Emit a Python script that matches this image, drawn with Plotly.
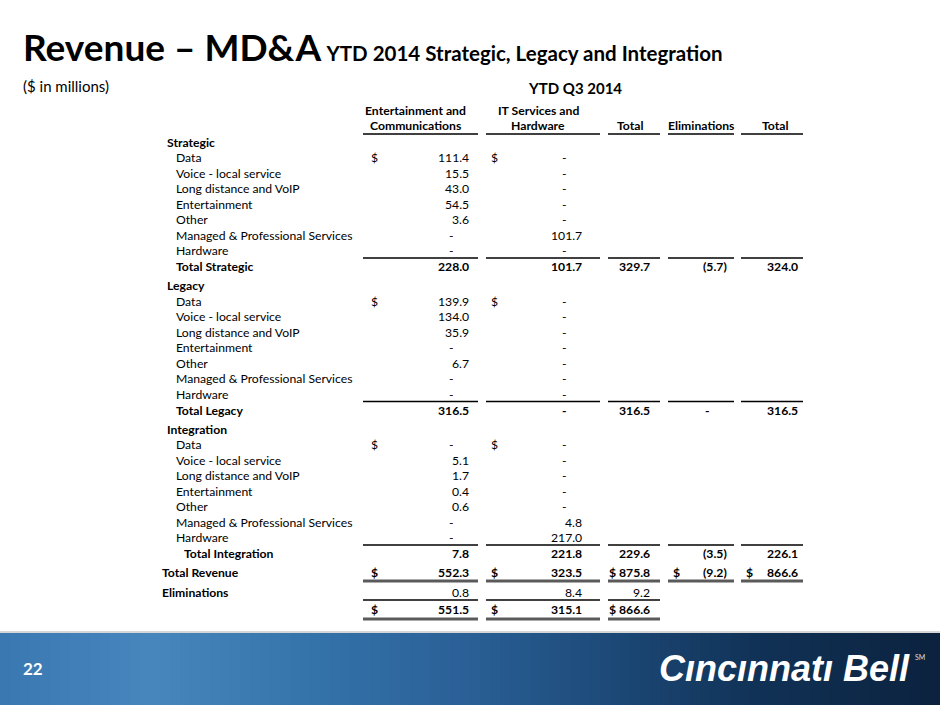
import plotly.graph_objects as go

# 数据
items = ["Data", "Voice - local service", "Long distance and VoIP", "Entertainment",
         "Other", "Managed & Professional Services", "Hardware"]
sections = ["Strategic", "Legacy", "Integration"]

ec_strategic = [111.4, 15.5, 43.0, 54.5, 3.6, None, None]
it_strategic = [None, None, None, None, None, 101.7, None]
ec_legacy = [139.9, 134.0, 35.9, None, 6.7, None, None]
it_legacy = [None, None, None, None, None, None, None]
ec_integration = [None, 5.1, 1.7, 0.4, 0.6, None, None]
it_integration = [None, None, None, None, None, 4.8, 217.0]

# Total rows: E&C, IT, Total, Eliminations, Total
total_strategic = [228.0, 101.7, 329.7, -5.7, 324.0]
total_legacy = [316.5, None, 316.5, None, 316.5]
total_integration = [7.8, 221.8, 229.6, -3.5, 226.1]
total_revenue = [552.3, 323.5, 875.8, -9.2, 866.6]
eliminations = [0.8, 8.4, 9.2]
net_revenue = [551.5, 315.1, 866.6]

col_headers = [("Entertainment and", "Communications"), ("IT Services and", "Hardware"),
               ("", "Total"), ("", "Eliminations"), ("", "Total")]

# 版式
FONT = "Lato, 'Open Sans', sans-serif"
col_right = [471, 584, 652, 727, 800]
col_dollar = [369, 489, 607, 671, 744]
col_span = [(363, 478), (486, 600), (608, 660), (668, 734), (741, 803)]
col_center = [415, 538, 630, 701, 775]
BODY = 12.2

annotations = []
shapes = []


def txt(x, y, s, anchor="left", bold=False, size=BODY, color="#000000"):
    annotations.append(dict(x=x, y=y, xref="x", yref="y", text=f"<b>{s}</b>" if bold else s,
                            showarrow=False, xanchor=anchor, yanchor="middle",
                            font=dict(family=FONT, size=size, color=color)))


def fmt(v):
    if v is None:
        return "-"
    if v < 0:
        return f"({abs(v):,.1f})"
    return f"{v:,.1f}"


def value(ci, y, v, bold=False, dollar=False):
    s = fmt(v)
    if v is None:
        txt(col_right[ci] - 15, y, s, "right", bold)
    elif v < 0:
        txt(col_right[ci] + 2, y, s, "right", bold)
    else:
        txt(col_right[ci], y, s, "right", bold)
    if dollar:
        txt(col_dollar[ci], y, "$", "left", bold)


def hline(y, cols, width=1.3, color="#000000"):
    for ci in cols:
        x0, x1 = col_span[ci]
        shapes.append(dict(type="line", xref="x", yref="y", x0=x0, x1=x1, y0=y, y1=y,
                           line=dict(color=color, width=width)))


# 标题
txt(21, 46, "<b><span style='font-size:37px'>Revenue – MD&A</span></b> "
    "<b><span style='font-size:20.5px'>YTD 2014 Strategic, Legacy and Integration</span></b>",
    size=20.5)
txt(21, 86, "($ in millions)", size=15)
txt(575, 88, "YTD Q3 2014", "center", True, 15)

for ci, (h1, h2) in enumerate(col_headers):
    if h1:
        txt(col_center[ci], 110, h1, "center", True)
    txt(col_center[ci], 125, h2, "center", True)
hline(134, range(5))

# 各部分
section_data = [(ec_strategic, it_strategic, total_strategic, "Total Strategic", 174),
                (ec_legacy, it_legacy, total_legacy, "Total Legacy", 174),
                (ec_integration, it_integration, total_integration, "Total Integration", 182)]

y = 142
for name, (ec, it, tot, tot_label, tot_x) in zip(sections, section_data):
    txt(165, y, name, bold=True)
    y += 15.5
    for i, item in enumerate(items):
        txt(174, y, item)
        value(0, y, ec[i], dollar=(i == 0))
        value(1, y, it[i], dollar=(i == 0))
        y += 15.5
    y += 0.5
    hline(y - 8.5, range(5))
    txt(tot_x, y, tot_label, bold=True)
    for ci, v in enumerate(tot):
        value(ci, y, v, bold=True)
    y += 19

txt(160, y, "Total Revenue", bold=True)
for ci, v in enumerate(total_revenue):
    value(ci, y, v, bold=True, dollar=True)
hline(y + 8.5, range(5), 3, "#5a5a5a")

y += 20
txt(160, y, "Eliminations", bold=True)
for ci, v in enumerate(eliminations):
    value(ci, y, v)
hline(y + 7.5, range(3))

y += 16.5
for ci, v in enumerate(net_revenue):
    value(ci, y, v, bold=True, dollar=True)
hline(y + 10, range(3), 3, "#5a5a5a")

# 页脚渐变条
stops = [(0, (58, 120, 178)), (150, (72, 134, 190)), (320, (52, 114, 170)),
         (470, (42, 96, 150)), (620, (28, 72, 118)), (760, (17, 50, 86)), (940, (12, 34, 62))]
step = 10
for x0 in range(0, 940, step):
    xm = x0 + step / 2
    for (a, ca), (b, cb) in zip(stops[:-1], stops[1:]):
        if a <= xm <= b:
            t = (xm - a) / (b - a)
            c = tuple(int(ca[k] + (cb[k] - ca[k]) * t) for k in range(3))
            break
    shapes.append(dict(type="rect", xref="x", yref="y", x0=x0, x1=x0 + step + 0.5, y0=633, y1=705,
                       line=dict(width=0), fillcolor=f"rgb{c}", layer="below"))
shapes.append(dict(type="line", xref="x", yref="y", x0=0, x1=940, y0=632, y1=632,
                   line=dict(color="#c8c8c8", width=1.5)))

txt(21, 668, "22", bold=True, size=17, color="white")
annotations.append(dict(x=912, y=668, xref="x", yref="y", text="<b><i>Cıncınnatı Bell</i></b>",
                        showarrow=False, xanchor="right", yanchor="middle",
                        font=dict(family="'Liberation Sans', Arial, sans-serif", size=36, color="white")))
txt(913, 657, "SM", size=7, color="#dddddd")

fig = go.Figure()
fig.update_layout(
    width=940, height=705,
    margin=dict(l=0, r=0, t=0, b=0),
    plot_bgcolor="white", paper_bgcolor="white",
    xaxis=dict(range=[0, 940], visible=False, fixedrange=True),
    yaxis=dict(range=[705, 0], visible=False, fixedrange=True),
    annotations=annotations, shapes=shapes,
    showlegend=False,
)

# 去掉页面默认边距
fig.write_html("out.html", config={"displayModeBar": False},
               post_script="document.body.style.margin='0';document.body.style.overflow='hidden';")
